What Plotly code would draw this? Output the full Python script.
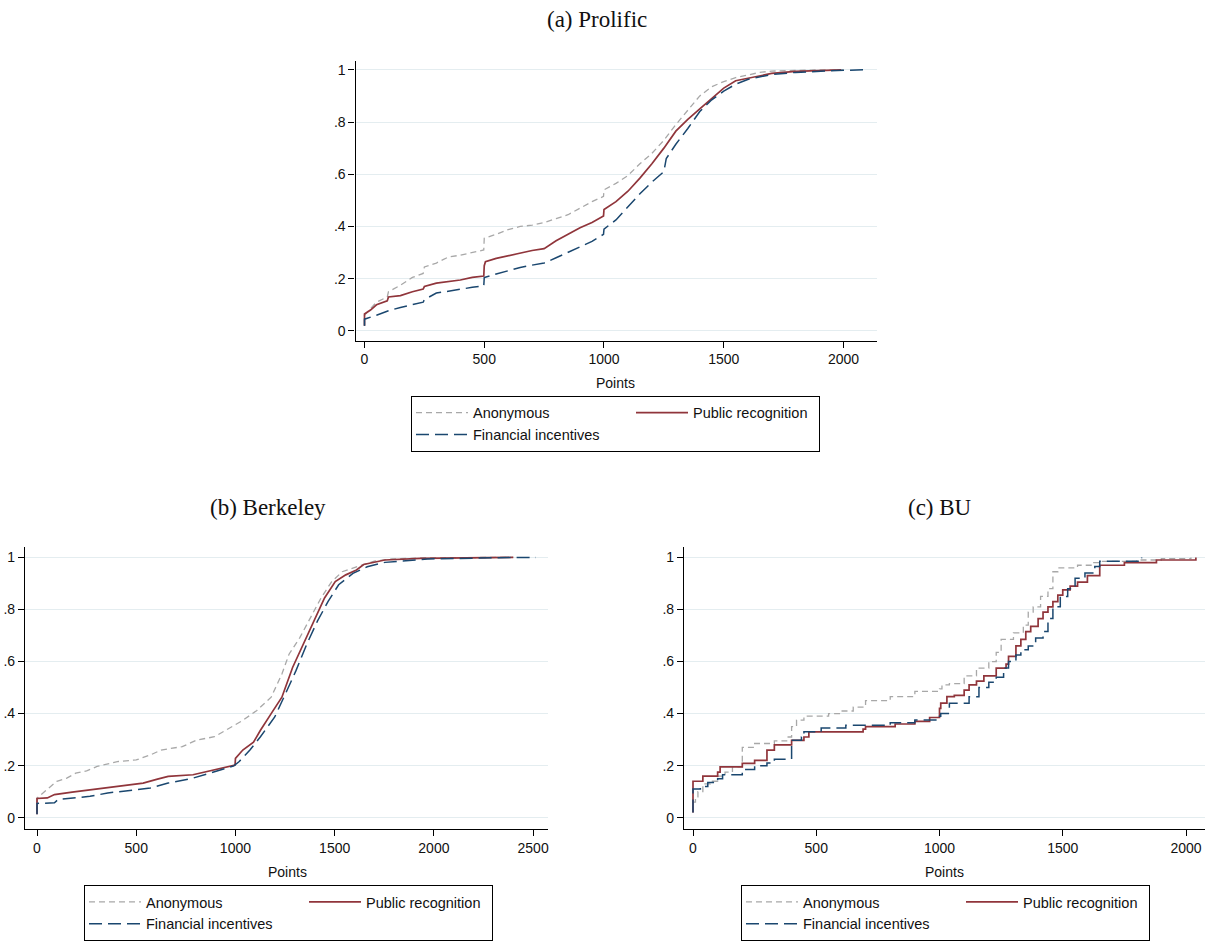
import plotly.graph_objects as go

W, H = 1209, 941

# ---------------- data ----------------
series_names = ["Anonymous", "Public recognition", "Financial incentives"]
y_tickvals = [0, 0.2, 0.4, 0.6, 0.8, 1]
y_ticktext = ["0", ".2", ".4", ".6", ".8", "1"]
x_ticks_prolific = [0, 500, 1000, 1500, 2000]
x_ticks_berkeley = [0, 500, 1000, 1500, 2000, 2500]
x_ticks_bu = [0, 500, 1000, 1500, 2000]

# (a) Prolific
prolific_anon_x = [0, 0, 25, 50, 95, 100, 150, 200, 245, 250, 300, 350, 400, 450, 498, 500, 550, 600, 650, 700, 750,
                   800, 850, 900, 950, 998, 1000, 1050, 1100, 1150, 1200, 1250, 1300, 1350, 1400, 1450, 1500, 1550,
                   1600, 1650, 1700, 1800, 1900, 2000]
prolific_anon_y = [0.02, 0.06, 0.085, 0.11, 0.13, 0.15, 0.175, 0.205, 0.22, 0.245, 0.26, 0.283, 0.29, 0.30, 0.31, 0.355,
                   0.37, 0.388, 0.40, 0.405, 0.415, 0.43, 0.445, 0.47, 0.495, 0.515, 0.54, 0.565, 0.595, 0.64, 0.68,
                   0.73, 0.79, 0.845, 0.90, 0.935, 0.955, 0.97, 0.98, 0.99, 0.995, 0.998, 1.0, 1.0]
prolific_public_x = [0, 0, 25, 50, 95, 100, 150, 200, 245, 250, 300, 350, 400, 450, 498, 500, 505, 550, 600, 650, 700,
                     750, 800, 850, 900, 950, 998, 1000, 1050, 1100, 1150, 1200, 1250, 1300, 1350, 1400, 1450, 1500,
                     1550, 1600, 1650, 1700, 1800, 1900, 1990]
prolific_public_y = [0.02, 0.065, 0.08, 0.10, 0.115, 0.13, 0.135, 0.15, 0.16, 0.17, 0.183, 0.19, 0.195, 0.205, 0.21,
                     0.25, 0.265, 0.278, 0.288, 0.30, 0.308, 0.315, 0.345, 0.37, 0.395, 0.415, 0.44, 0.465, 0.495,
                     0.535, 0.585, 0.64, 0.70, 0.765, 0.81, 0.85, 0.89, 0.93, 0.958, 0.968, 0.977, 0.986, 0.994,
                     0.998, 1.0]
prolific_fin_x = [0, 0, 50, 100, 150, 200, 245, 250, 300, 350, 400, 450, 498, 500, 550, 600, 650, 700, 750, 800, 850,
                  900, 950, 998, 1000, 1050, 1100, 1150, 1200, 1250, 1260, 1300, 1350, 1400, 1450, 1500, 1550, 1600,
                  1700, 1800, 2000, 2090]
prolific_fin_y = [0.02, 0.045, 0.06, 0.077, 0.09, 0.10, 0.11, 0.12, 0.145, 0.152, 0.16, 0.167, 0.172, 0.204, 0.218,
                  0.23, 0.243, 0.252, 0.26, 0.28, 0.30, 0.32, 0.343, 0.37, 0.39, 0.425, 0.475, 0.525, 0.57, 0.61,
                  0.66, 0.715, 0.775, 0.84, 0.885, 0.918, 0.945, 0.963, 0.982, 0.99, 0.998, 1.0]

# (b) Berkeley
berkeley_anon_x = [0, 0, 50, 100, 150, 195, 250, 303, 410, 500, 571, 625, 732, 804, 894, 965, 1000, 1037, 1108, 1180,
                   1234, 1270, 1323, 1377, 1431, 1485, 1538, 1610, 1700, 1789, 1968, 2400]
berkeley_anon_y = [0.02, 0.075, 0.108, 0.14, 0.152, 0.171, 0.18, 0.197, 0.216, 0.222, 0.241, 0.26, 0.273, 0.298, 0.311,
                   0.343, 0.36, 0.374, 0.412, 0.463, 0.552, 0.628, 0.69, 0.768, 0.844, 0.907, 0.945, 0.964, 0.986,
                   0.994, 0.999, 1.0]
berkeley_public_x = [0, 0, 52, 88, 177, 285, 356, 535, 607, 661, 786, 858, 930, 998, 1000, 1037, 1091, 1126, 1180, 1234,
                     1288, 1341, 1395, 1449, 1503, 1556, 1610, 1646, 1753, 1932, 2400]
berkeley_public_y = [0.013, 0.074, 0.076, 0.089, 0.098, 0.108, 0.114, 0.133, 0.148, 0.159, 0.165, 0.178, 0.19, 0.202,
                     0.228, 0.26, 0.29, 0.336, 0.40, 0.463, 0.577, 0.666, 0.755, 0.844, 0.907, 0.933, 0.952, 0.973,
                     0.99, 0.996, 1.0]
berkeley_fin_x = [0, 0, 88, 106, 267, 356, 571, 661, 786, 894, 992, 1019, 1073, 1126, 1198, 1252, 1305, 1359, 1413,
                  1467, 1520, 1592, 1664, 1753, 1968, 2326, 2514]
berkeley_fin_y = [0.013, 0.055, 0.057, 0.07, 0.082, 0.095, 0.114, 0.133, 0.152, 0.178, 0.199, 0.216, 0.26, 0.311,
                  0.387, 0.476, 0.565, 0.666, 0.755, 0.831, 0.895, 0.939, 0.964, 0.981, 0.994, 0.999, 1.0]

# (c) BU  (step functions)
bu_anon_x = [0, 0, 10, 20, 40, 70, 100, 130, 160, 200, 250, 330, 380, 400, 420, 450, 550, 600, 650, 700, 800, 900,
             1000, 1010, 1040, 1100, 1150, 1200, 1230, 1250, 1300, 1340, 1360, 1380, 1410, 1440, 1460, 1480, 1560,
             1620, 1650, 1800, 1900, 2020]
bu_anon_y = [0.02, 0.06, 0.08, 0.10, 0.13, 0.14, 0.16, 0.175, 0.195, 0.27, 0.285, 0.295, 0.31, 0.35, 0.375, 0.39,
             0.40, 0.41, 0.425, 0.45, 0.465, 0.485, 0.495, 0.51, 0.515, 0.545, 0.575, 0.60, 0.635, 0.685, 0.71, 0.74,
             0.79, 0.81, 0.85, 0.88, 0.945, 0.96, 0.97, 0.98, 0.985, 0.99, 0.995, 1.0]
bu_public_x = [0, 0, 40, 100, 110, 200, 250, 300, 330, 400, 450, 470, 690, 700, 820, 900, 960, 1000, 1005, 1030, 1060,
               1100, 1120, 1150, 1180, 1230, 1270, 1280, 1310, 1330, 1350, 1370, 1400, 1420, 1440, 1460, 1480, 1500,
               1530, 1560, 1600, 1650, 1750, 1880, 2040]
bu_public_y = [0.02, 0.14, 0.16, 0.175, 0.195, 0.209, 0.22, 0.26, 0.28, 0.297, 0.31, 0.33, 0.34, 0.35, 0.36, 0.37,
               0.385, 0.42, 0.44, 0.465, 0.47, 0.49, 0.51, 0.525, 0.545, 0.575, 0.59, 0.62, 0.66, 0.685, 0.715, 0.735,
               0.765, 0.79, 0.81, 0.83, 0.855, 0.875, 0.89, 0.905, 0.93, 0.97, 0.98, 0.99, 1.0]
bu_fin_x = [0, 0, 30, 60, 100, 120, 200, 210, 250, 300, 330, 400, 400, 440, 450, 520, 620, 800, 900, 1000, 1005, 1040,
            1120, 1160, 1200, 1230, 1260, 1280, 1310, 1330, 1360, 1390, 1420, 1440, 1460, 1490, 1520, 1550, 1590,
            1630, 1650, 1820]
bu_fin_y = [0.02, 0.11, 0.12, 0.135, 0.15, 0.165, 0.17, 0.185, 0.2, 0.21, 0.225, 0.245, 0.298, 0.31, 0.33, 0.345,
            0.355, 0.365, 0.375, 0.39, 0.40, 0.44, 0.465, 0.50, 0.52, 0.54, 0.575, 0.60, 0.625, 0.645, 0.66, 0.69,
            0.715, 0.765, 0.81, 0.85, 0.88, 0.92, 0.94, 0.965, 0.985, 1.0]

# ---------------- styling ----------------
COL_ANON = "#A8A8A8"
COL_PUB = "#90353B"
COL_FIN = "#1A476F"
GRID = "#E4EDF0"
SANS = "Liberation Sans, Arial, sans-serif"
SERIF = "Liberation Serif, Times New Roman, serif"

styles = {
    "Anonymous": dict(color=COL_ANON, width=1.3, dash="6px,4px"),
    "Public recognition": dict(color=COL_PUB, width=1.7, dash="solid"),
    "Financial incentives": dict(color=COL_FIN, width=1.5, dash="13px,6px"),
}
groups = {"Anonymous": "g1", "Financial incentives": "g1", "Public recognition": "g2"}

panels = [
    dict(xa="x", ya="y", leg="legend", shape="linear",
         data={"Anonymous": (prolific_anon_x, prolific_anon_y),
               "Public recognition": (prolific_public_x, prolific_public_y),
               "Financial incentives": (prolific_fin_x, prolific_fin_y)}),
    dict(xa="x2", ya="y2", leg="legend2", shape="linear",
         data={"Anonymous": (berkeley_anon_x, berkeley_anon_y),
               "Public recognition": (berkeley_public_x, berkeley_public_y),
               "Financial incentives": (berkeley_fin_x, berkeley_fin_y)}),
    dict(xa="x3", ya="y3", leg="legend3", shape="hv",
         data={"Anonymous": (bu_anon_x, bu_anon_y),
               "Public recognition": (bu_public_x, bu_public_y),
               "Financial incentives": (bu_fin_x, bu_fin_y)}),
]

fig = go.Figure()
for p in panels:
    for name in series_names:
        xs, ys = p["data"][name]
        fig.add_trace(go.Scatter(
            x=xs, y=ys, mode="lines", name=name,
            line=dict(shape=p["shape"], **styles[name]),
            xaxis=p["xa"], yaxis=p["ya"], legend=p["leg"],
            legendgroup=groups[name],
            legendwidth=121 if name == "Public recognition" else 153,
            hoverinfo="skip",
        ))


def xaxis_cfg(domain, rng, ticks, anchor):
    return dict(domain=domain, range=rng, tickvals=ticks, ticktext=[str(t) for t in ticks],
                showline=True, linecolor="black", linewidth=1.1, ticks="outside", ticklen=6,
                tickcolor="black", tickwidth=1, showgrid=False, zeroline=False, anchor=anchor,
                tickfont=dict(family=SANS, size=14, color="#111111"), fixedrange=True)


def yaxis_cfg(domain, rng, anchor):
    return dict(domain=domain, range=rng, tickvals=y_tickvals, ticktext=y_ticktext,
                showline=True, linecolor="black", linewidth=1.1, ticks="outside", ticklen=6,
                tickcolor="black", tickwidth=1, showgrid=True, gridcolor=GRID, gridwidth=1,
                zeroline=False, anchor=anchor,
                tickfont=dict(family=SANS, size=14, color="#111111"), fixedrange=True)


def legend_cfg(left_px, top_px):
    return dict(x=left_px / W, y=1 - top_px / H, xanchor="left", yanchor="top",
                orientation="h", traceorder="grouped", tracegroupgap=0, itemwidth=52,
                bordercolor="black", borderwidth=1, bgcolor="white",
                font=dict(family=SANS, size=14.5, color="#111111"))


ybot_a, ytop_a = 343.5, 61.7
ybot_b, ytop_b = 836.0, 551.7

fig.update_layout(
    width=W, height=H,
    margin=dict(l=0, r=0, t=0, b=0),
    paper_bgcolor="white", plot_bgcolor="white",
    showlegend=True,
    xaxis=xaxis_cfg([355.5 / W, 877 / W], [-37.6, 2140], x_ticks_prolific, "y"),
    yaxis=yaxis_cfg([1 - ybot_a / H, 1 - ytop_a / H], [-0.037, 1.033], "x"),
    xaxis2=xaxis_cfg([25 / W, 548 / W], [-60.5, 2575], x_ticks_berkeley, "y2"),
    yaxis2=yaxis_cfg([1 - ybot_b / H, 1 - ytop_b / H], [-0.043, 1.040], "x2"),
    xaxis3=xaxis_cfg([684 / W, 1205 / W], [-36.5, 2077], x_ticks_bu, "y3"),
    yaxis3=yaxis_cfg([1 - ybot_b / H, 1 - ytop_b / H], [-0.043, 1.040], "x3"),
    legend=legend_cfg(411, 399),
    legend2=legend_cfg(84, 893),
    legend3=legend_cfg(741, 893),
)

titles = [("(a) Prolific", 597, 20), ("(b) Berkeley", 268, 512), ("(c) BU", 940, 512)]
for txt, xp, yp in titles:
    fig.add_annotation(text=txt, x=xp / W, y=1 - yp / H, xref="paper", yref="paper",
                       xanchor="center", yanchor="middle", showarrow=False,
                       font=dict(family=SERIF, size=23, color="#111111"))

axis_titles = [("Points", 615, 386), ("Points", 287, 879), ("Points", 944, 879)]
for txt, xp, yp in axis_titles:
    fig.add_annotation(text=txt, x=xp / W, y=1 - yp / H, xref="paper", yref="paper",
                       xanchor="center", yanchor="middle", showarrow=False,
                       font=dict(family=SANS, size=14, color="#111111"))

fig.write_html("out.html")
